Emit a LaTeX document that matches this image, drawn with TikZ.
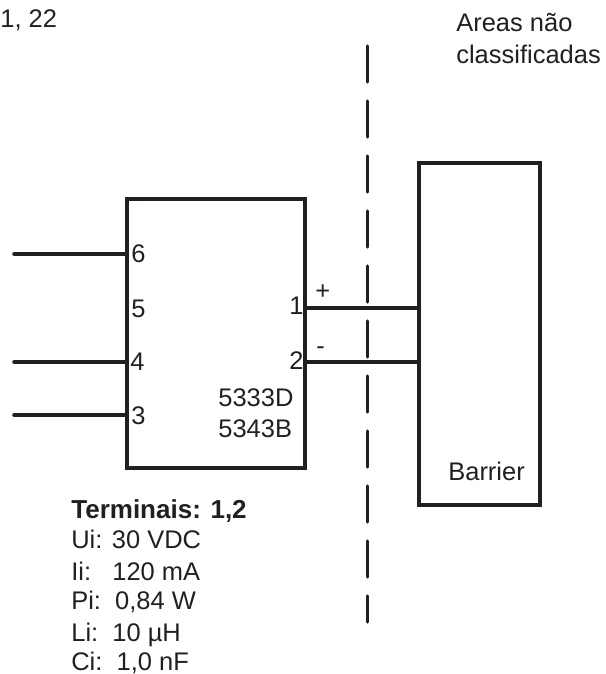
\documentclass[tikz,border=0pt]{standalone}
\usepackage{fontspec}
\setmainfont{Liberation Sans}
\usetikzlibrary{positioning}
\definecolor{ink}{HTML}{231F20}
\tikzset{
  label/.style={anchor=base west, inner sep=0, text=ink, font=\fontsize{14.5}{17}\selectfont},
  pinr/.style={anchor=base east, inner sep=0, text=ink, font=\fontsize{14.5}{17}\selectfont},
  boxnode/.style={draw=ink, line width=2pt, rectangle, inner sep=0, outer sep=0},
  wire/.style={draw=ink, line width=2pt, line cap=round},
  dashline/.style={draw=ink, line width=1.8pt, line cap=round}
}
\begin{document}
\begin{tikzpicture}[x=.02cm,y=-.02cm]
\useasboundingbox (0,0) rectangle (606,674);

\node [boxnode, minimum width=3.56cm, minimum height=5.38cm] (unit) at (216,333.5) {};
\node [boxnode, minimum width=2.42cm, minimum height=6.84cm] (barrier) at (479.5,334) {};

\coordinate (in6) at (14,254);
\coordinate (in4) at (14,362);
\coordinate (in3) at (14,415);
\coordinate (pin6) at (unit.west |- in6);
\coordinate (pin4) at (unit.west |- in4);
\coordinate (pin3) at (unit.west |- in3);
\draw [wire] (in6) -- (pin6);
\draw [wire] (in4) -- (pin4);
\draw [wire] (in3) -- (pin3);

\coordinate (pin1) at (305,308);
\coordinate (pin2) at (305,362);
\draw [wire] (pin1) -- (pin1 -| barrier.west);
\draw [wire] (pin2) -- (pin2 -| barrier.west);

% boundary
\draw [dashline] (367.4,46) -- (367.4,82);
\draw [dashline] (367.4,101) -- (367.4,137);
\draw [dashline] (367.4,156) -- (367.4,192);
\draw [dashline] (367.4,211) -- (367.4,247);
\draw [dashline] (367.4,266) -- (367.4,302);
\draw [dashline] (367.4,321) -- (367.4,357);
\draw [dashline] (367.4,376) -- (367.4,412);
\draw [dashline] (367.4,431) -- (367.4,467);
\draw [dashline] (367.4,486) -- (367.4,522);
\draw [dashline] (367.4,541) -- (367.4,577);
\draw [dashline] (367.4,596) -- (367.4,622);

\node [label] (tagtop) at (0,27) {1, 22};
\node [label] (area1) at (456,31) {Areas não};
\node [label] (area2) at (456,63) {classificadas};

\node [label] (n6) at (131,262) {6};
\node [label] (n5) at (131,317) {5};
\node [label] (n4) at (130,370) {4};
\node [label] (n3) at (131,424) {3};
\node [pinr] (n1) at (304,314) {1};
\node [pinr] (n2) at (304,369) {2};
\node [label] (plus) at (315,299) {+};
\node [label] (minus) at (316,354) {-};
\node [label] (model1) at (218,406) {5333D};
\node [label] (model2) at (218,437) {5343B};
\node [label] (bar) at (448,480) {Barrier};

\node [label, font=\fontsize{14.8}{17}\selectfont\bfseries] (term) at (71,518) {Terminais: 1,2};
\node [label] (ui) at (71,548) {Ui: 30 VDC};
\node [label] (ii) at (71,580) {Ii:\ \ \ 120 mA};
\node [label] (pi) at (71,609) {Pi:\ \ 0,84 W};
\node [label] (li) at (71,641) {Li:\ \ 10 µH};
\node [label] (ci) at (71,670) {Ci:\ \ 1,0 nF};
\end{tikzpicture}
\end{document}
